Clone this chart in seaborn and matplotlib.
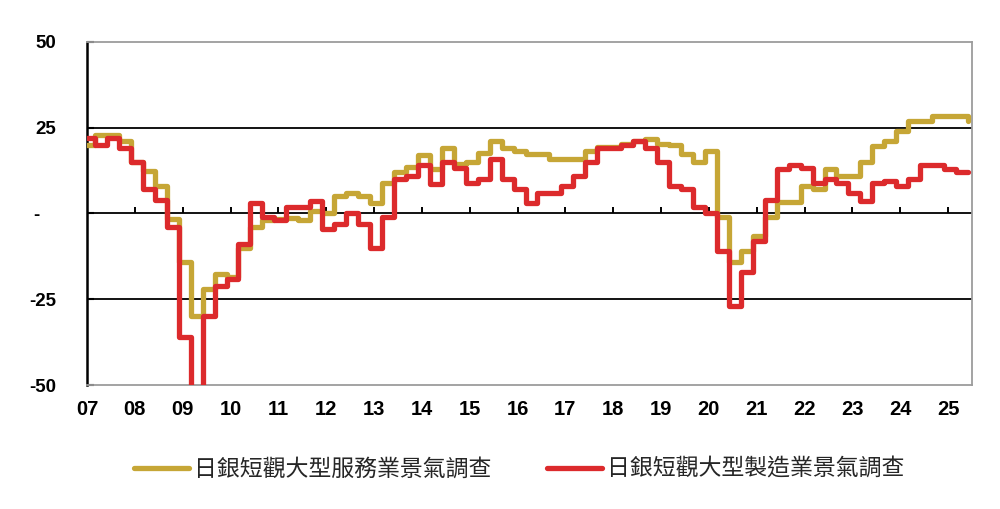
import pandas as pd
import matplotlib
matplotlib.use("Agg")
import matplotlib.pyplot as plt
import seaborn as sns

# 季調查 (值自調查月起維持到下一次調查)
QUARTERS = pd.period_range("2006Q4", "2025Q2", freq="Q")

SERVICES = [20, 23, 23, 21, 15, 12.5, 8, -1.5, -14, -30, -22, -17.5, -18.5,
            -10, -4, -2, -1.7, -1.2, -2, 0.8, 0, 5, 6, 5, 3,
            9, 12, 13.5, 17, 13, 19, 14.4, 15, 17.5, 21, 19.2, 18.3,
            17.3, 17.3, 16, 16, 16, 18.3, 19.5, 19.5, 20.2, 21, 21.7, 20.2,
            20, 17.2, 15, 18.2, -1, -14, -11, -6.5, -1, 3.2, 3.2, 8,
            7, 13, 11, 11, 15, 19.8, 21, 24, 27, 27, 28.3, 28.3, 28.3, 27]

MANUFACTURING = [22, 20, 22, 19, 15, 7, 4, -4, -36, -55, -30, -21, -19,
                 -9, 3, -1, -2, 2, 2, 3.5, -4.5, -3, 0, -3, -10,
                 -1, 10, 11, 14, 8.5, 15, 13.4, 9, 10, 16, 10, 7,
                 3, 6, 6, 8, 11, 15, 19, 19, 20, 21, 19, 15,
                 8, 7, 2, 0, -11, -27, -17, -8, 4, 13, 14, 13.4,
                 9, 10, 9, 6, 3.5, 9, 9.5, 8, 10, 14, 14, 13, 12, 12]

SERIES_NAMES = ["日銀短觀大型服務業景氣調查", "日銀短觀大型製造業景氣調查"]
YEAR_TICKS = [2007, 2008, 2009, 2010, 2011, 2012, 2013, 2014, 2015, 2016,
              2017, 2018, 2019, 2020, 2021, 2022, 2023, 2024, 2025]
YEAR_LABELS = ["07", "08", "09", "10", "11", "12", "13", "14", "15", "16",
               "17", "18", "19", "20", "21", "22", "23", "24", "25"]
Y_TICKS = [50, 25, 0, -25, -50]
Y_LABELS = ["50", "25", "-   ", "-25", "-50"]
GUIDE_LEVELS = [25, 0, -25]

GOLD = "#C6A636"
RED = "#DC2A2C"

sns.set_theme(style="white")
plt.rcParams["font.family"] = ["Liberation Sans", "DejaVu Sans"]

df = pd.DataFrame({
    "t": [q.year + (q.end_time.month - 1) / 12 for q in QUARTERS],
    "services": SERVICES,
    "manufacturing": MANUFACTURING,
})

fig = plt.figure(figsize=(10, 5.09), dpi=100)
ax = fig.add_axes([0.087, 0.2436, 0.885, 0.674])

for v in GUIDE_LEVELS:
    ax.axhline(v, color="black", lw=1.3, zorder=1)

sns.lineplot(data=df, x="t", y="services", ax=ax, color=GOLD, lw=3.8,
             drawstyle="steps-post", label=SERIES_NAMES[0], zorder=3)
sns.lineplot(data=df, x="t", y="manufacturing", ax=ax, color=RED, lw=3.8,
             drawstyle="steps-post", label=SERIES_NAMES[1], zorder=4)

ax.set_xlim(2007, 2025.5)
ax.set_ylim(-50, 50)
ax.set_xlabel("")
ax.set_ylabel("")
ax.set_xticks(YEAR_TICKS, YEAR_LABELS, fontweight="bold", fontsize=14.5, color="black")
ax.set_yticks(Y_TICKS, Y_LABELS, fontweight="bold", fontsize=13.5, color="black")
ax.tick_params(axis="x", bottom=False, length=0, pad=11)
ax.tick_params(axis="y", left=True, direction="in", length=5, width=1.5,
               color="black", pad=22)

for side in ["top", "right", "bottom"]:
    ax.spines[side].set_color("#9C9C9C")
    ax.spines[side].set_linewidth(1.3)
ax.spines["left"].set_color("black")
ax.spines["left"].set_linewidth(1.8)

# 零軸上的年份刻度
sec = ax.secondary_xaxis(0.5)
sec.set_xticks(YEAR_TICKS[1:])
sec.tick_params(axis="x", top=True, bottom=False, direction="out", length=4,
                width=1.4, color="black", labeltop=False, labelbottom=False)
for s in sec.spines.values():
    s.set_visible(False)

ax.legend(loc="center", bbox_to_anchor=(0.519, 0.078), bbox_transform=fig.transFigure,
          ncol=2, frameon=False, handlelength=2.4, handletextpad=0.22,
          columnspacing=2.45, prop={"family": ["Noto Sans CJK TC"], "size": 16.5})

fig.savefig("out.png", dpi=100)
